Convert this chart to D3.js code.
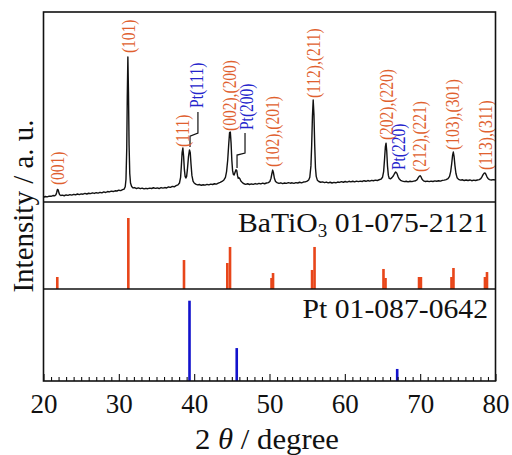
<!DOCTYPE html>
<html><head><meta charset="utf-8">
<script src="https://cdn.jsdelivr.net/npm/d3@7"></script>
<style>
html,body{margin:0;padding:0;background:#fff;}
svg{display:block;}
text{font-family:"Liberation Serif","Times New Roman",serif;}
</style></head>
<body>
<script>
// ---------- data ----------
// measured XRD trace [2theta, intensity (a.u.)]
const pattern = [[20.0,2.5],[20.25,2.9],[20.5,2.7],[20.75,3.1],[21.0,3.0],[21.25,3.4],[21.5,3.3],[21.65,3.8],[21.75,5.0],[21.85,6.6],[21.95,6.4],[22.05,4.8],[22.15,3.8],[22.3,3.4],[22.5,3.6],[22.75,3.3],[23.0,3.7],[23.25,3.5],[23.5,3.9],[23.75,3.6],[24.0,4.0],[24.25,3.8],[24.5,4.2],[24.75,3.9],[25.0,4.3],[25.25,4.1],[25.5,4.5],[25.75,4.2],[26.0,4.6],[26.25,4.4],[26.5,4.8],[26.75,4.5],[27.0,4.9],[27.25,4.7],[27.5,5.1],[27.75,4.8],[28.0,5.3],[28.25,5.0],[28.5,5.5],[28.75,5.3],[29.0,5.7],[29.25,5.5],[29.5,5.9],[29.75,5.8],[30.0,6.2],[30.25,6.0],[30.5,6.5],[30.7,6.8],[30.85,8.0],[30.95,12],[31.05,28],[31.12,55],[31.2,76.3],[31.28,58],[31.36,30],[31.45,15],[31.55,10],[31.7,8.2],[31.9,7.4],[32.1,7.6],[32.35,7.1],[32.6,7.4],[32.85,7.0],[33.1,7.3],[33.35,6.9],[33.6,7.2],[33.85,7.0],[34.1,7.3],[34.35,7.1],[34.6,7.5],[34.85,7.2],[35.1,7.4],[35.35,7.1],[35.6,7.6],[35.85,7.3],[36.1,7.6],[36.35,7.4],[36.6,7.9],[36.85,7.7],[37.1,8.2],[37.35,8.0],[37.6,8.6],[37.85,9.0],[38.05,10],[38.2,13],[38.3,19],[38.4,26],[38.5,28.4],[38.6,24],[38.7,17],[38.8,13.5],[38.9,12.6],[39.0,13.5],[39.1,17],[39.25,24],[39.38,27.4],[39.48,26],[39.58,20],[39.7,14],[39.85,11],[40.0,10.0],[40.2,9.4],[40.45,9.0],[40.7,9.2],[40.95,8.8],[41.2,9.1],[41.45,8.9],[41.7,9.3],[41.95,9.0],[42.2,9.4],[42.45,9.2],[42.7,9.6],[42.95,9.4],[43.2,9.9],[43.45,10.3],[43.7,10.8],[43.95,11.6],[44.15,13],[44.3,16],[44.45,22],[44.58,30],[44.7,36.5],[44.8,36.8],[44.9,31],[45.0,22],[45.1,16.5],[45.2,14.6],[45.3,14.2],[45.42,15.5],[45.55,17],[45.65,16.6],[45.75,14],[45.85,12.5],[45.95,12.8],[46.05,12.4],[46.2,11],[46.4,10.2],[46.6,9.6],[46.85,9.3],[47.1,9.6],[47.35,9.2],[47.6,9.5],[47.85,9.3],[48.1,9.7],[48.35,9.4],[48.6,9.8],[48.85,9.5],[49.1,9.9],[49.35,9.6],[49.6,10.0],[49.85,10.2],[50.05,10.8],[50.2,12.5],[50.32,15],[50.42,16.8],[50.52,15.5],[50.65,12.5],[50.8,10.8],[51.0,10.2],[51.25,9.8],[51.5,10.1],[51.75,9.7],[52.0,10.0],[52.25,9.8],[52.5,10.2],[52.75,9.9],[53.0,10.1],[53.25,9.8],[53.5,10.2],[53.75,10.0],[54.0,10.4],[54.25,10.1],[54.5,10.5],[54.75,10.6],[55.0,11.0],[55.2,11.6],[55.35,13],[55.5,19],[55.6,30],[55.7,45],[55.8,53.7],[55.9,46],[56.0,30],[56.1,18],[56.2,13.5],[56.35,11.5],[56.55,10.8],[56.8,10.4],[57.05,10.6],[57.3,10.2],[57.55,10.5],[57.8,10.1],[58.05,10.4],[58.3,10.0],[58.55,10.3],[58.8,10.1],[59.05,10.5],[59.3,10.3],[59.55,10.7],[59.8,10.4],[60.05,10.8],[60.3,10.5],[60.55,10.9],[60.8,10.6],[61.05,10.9],[61.3,10.6],[61.55,11.0],[61.8,10.7],[62.05,11.0],[62.3,10.8],[62.55,11.2],[62.8,10.9],[63.05,11.3],[63.3,11.0],[63.55,11.4],[63.8,11.2],[64.05,11.5],[64.3,11.3],[64.55,11.7],[64.8,12.0],[65.0,13],[65.15,16],[65.28,23],[65.38,29],[65.47,31],[65.56,27],[65.66,19],[65.78,14],[65.9,12.4],[66.05,12.2],[66.25,12.8],[66.45,13.8],[66.6,15],[66.75,15.8],[66.9,15.2],[67.05,13.5],[67.2,12.2],[67.4,11.4],[67.65,11.0],[67.9,10.7],[68.15,10.9],[68.4,10.6],[68.65,10.9],[68.9,10.7],[69.15,11.0],[69.4,11.2],[69.6,11.8],[69.75,12.8],[69.9,13.6],[70.0,13.8],[70.12,13.2],[70.25,12.0],[70.45,11.1],[70.7,10.8],[70.95,11.0],[71.2,10.7],[71.45,11.0],[71.7,10.8],[71.95,11.1],[72.2,10.9],[72.45,11.2],[72.7,11.0],[72.95,11.4],[73.2,11.5],[73.45,11.8],[73.7,12.3],[73.9,13.5],[74.05,16],[74.18,20],[74.3,24.5],[74.4,26.3],[74.5,24],[74.62,19],[74.75,15],[74.9,12.8],[75.1,11.9],[75.35,11.5],[75.6,11.7],[75.85,11.3],[76.1,11.6],[76.35,11.3],[76.6,11.6],[76.85,11.2],[77.1,11.5],[77.35,11.3],[77.6,11.6],[77.85,11.8],[78.05,12.3],[78.2,13.2],[78.35,14.4],[78.5,15.2],[78.6,15.3],[78.72,14.6],[78.85,13.4],[79.0,12.4],[79.2,11.8],[79.45,11.6],[79.7,11.8],[80.0,11.6]];

// peak labels: text, phase, 2theta of label centre, intensity at label base
const peakLabels = ["(001)","(101)","(111)","Pt(111)","(002),(200)","Pt(200)","(102),(201)","(112),(211)","(202),(220)","Pt(220)","(212),(221)","(103),(301)","(113),(311)"];
const peakPhase  = ["Ba","Ba","Ba","Pt","Ba","Pt","Ba","Ba","Ba","Pt","Ba","Ba","Ba"];
const labelPos   = [21.92,31.35,38.52,40.4,44.76,47.05,50.46,55.9,65.6,67.2,69.97,74.35,78.73];
const labelBase  = [8.9,78.4,28.9,49.5,37.4,37.9,18.4,54.7,32.6,16.8,15.8,27.4,16.8];

// leader lines for Pt labels [2theta, intensity]
const leaderPt111 = [[39.45,28.9],[39.45,34.7],[40.5,36.3],[40.5,47.4]];
const leaderPt200 = [[45.69,17.9],[45.69,24.7],[46.75,25.8],[46.75,36.3]];

// reference card BaTiO3 01-075-2121
const baPos = [21.83,31.26,38.65,44.40,44.76,50.27,50.47,55.65,55.98,65.13,65.40,69.85,70.10,74.16,74.42,78.60,78.87];
const baInt = [16.9,100,40.8,36.6,59.2,15.5,22.5,26.8,59.2,28.2,15.5,16.9,16.9,16.9,29.6,16.9,23.9];
// reference card Pt 01-087-0642
const ptPos = [39.38,45.65,66.95];
const ptInt = [100,41,15];

const xTicks = [20,30,40,50,60,70,80];

// ---------- drawing ----------
const W=512,H=455;
const svg = d3.select("body").append("svg").attr("width",W).attr("height",H);
const x = d3.scaleLinear().domain([20,80]).range([43.5,495.5]);
const yTop = d3.scaleLinear().domain([0,100]).range([202,12]);
const yBa  = d3.scaleLinear().domain([0,100]).range([289,218]);
const yPt  = d3.scaleLinear().domain([0,100]).range([381,300.7]);

const orange="#e8461a", blue="#1212cc", labOr="#e0602e", labBl="#2424cc";

// trace
svg.append("path").datum(pattern)
  .attr("d", d3.line().x(d=>x(d[0])).y(d=>yTop(d[1])))
  .attr("fill","none").attr("stroke","#111").attr("stroke-width",1.4).attr("stroke-linejoin","round");

// leaders
[leaderPt111,leaderPt200].forEach(l=>{
  svg.append("path").datum(l)
    .attr("d", d3.line().x(d=>x(d[0])).y(d=>yTop(d[1])))
    .attr("fill","none").attr("stroke","#111").attr("stroke-width",1.2);
});

// labels
svg.append("g").selectAll("text").data(peakLabels).join("text")
  .attr("transform",(d,i)=>`translate(${x(labelPos[i])},${yTop(labelBase[i])}) rotate(-90) scale(1,1.15)`)
  .attr("dy","0.33em")
  .attr("font-size",15.5)
  .attr("fill",(d,i)=>peakPhase[i]==="Pt"?labBl:labOr)
  .text(d=>d);

// BaTiO3 bars
svg.append("g").selectAll("rect").data(baPos).join("rect")
  .attr("x",d=>x(d)-1.3).attr("width",2.6)
  .attr("y",(d,i)=>yBa(baInt[i])).attr("height",(d,i)=>yBa(0)-yBa(baInt[i]))
  .attr("fill",orange);
// Pt bars
svg.append("g").selectAll("rect").data(ptPos).join("rect")
  .attr("x",d=>x(d)-1.3).attr("width",2.6)
  .attr("y",(d,i)=>yPt(ptInt[i])).attr("height",(d,i)=>yPt(0)-yPt(ptInt[i]))
  .attr("fill",blue);

// panel labels
const t1 = svg.append("text").attr("transform","translate(488,232) scale(1.06,1)").attr("text-anchor","end").attr("font-size",28).attr("fill","#111");
t1.append("tspan").text("BaTiO");
t1.append("tspan").attr("font-size",18).attr("dy",5).text("3");
t1.append("tspan").attr("dy",-5).text(" 01-075-2121");
svg.append("text").attr("transform","translate(488,318) scale(1.06,1)").attr("text-anchor","end").attr("font-size",28).attr("fill","#111").text("Pt 01-087-0642");

// axes ticks
const axisG = svg.append("g").attr("transform","translate(0,381)");
axisG.call(d3.axisBottom(x).tickValues(d3.range(20,81,1).filter(v=>v%10!==0)).tickSize(-4).tickFormat(""))
  .call(g=>g.select(".domain").remove());
const axisM = svg.append("g").attr("transform","translate(0,381)");
axisM.call(d3.axisBottom(x).tickValues(xTicks).tickSize(-7).tickPadding(13).tickFormat(d3.format("d")))
  .call(g=>g.select(".domain").remove());
svg.selectAll(".tick line").attr("stroke","#111").attr("stroke-width",1.1);
axisM.selectAll(".tick text").attr("font-size",27).attr("font-family","'Liberation Serif','Times New Roman',serif").attr("fill","#111");

// frame
svg.append("rect").attr("x",43.5).attr("y",12).attr("width",452).attr("height",369)
  .attr("fill","none").attr("stroke","#111").attr("stroke-width",1.6);
[202,289].forEach(yv=>svg.append("line").attr("x1",43.5).attr("x2",495.5).attr("y1",yv).attr("y2",yv)
  .attr("stroke","#111").attr("stroke-width",1.6));

// axis titles
const xt = svg.append("text").attr("transform","translate(267,449) scale(1.06,1)").attr("text-anchor","middle").attr("font-size",29).attr("fill","#111");
xt.append("tspan").text("2 ");
xt.append("tspan").attr("font-style","italic").text("θ");
xt.append("tspan").text(" / degree");
svg.append("text").attr("transform","translate(33,206) rotate(-90)").attr("text-anchor","middle")
  .attr("font-size",29).attr("fill","#111").text("Intensity / a. u.");
</script>
</body></html>
